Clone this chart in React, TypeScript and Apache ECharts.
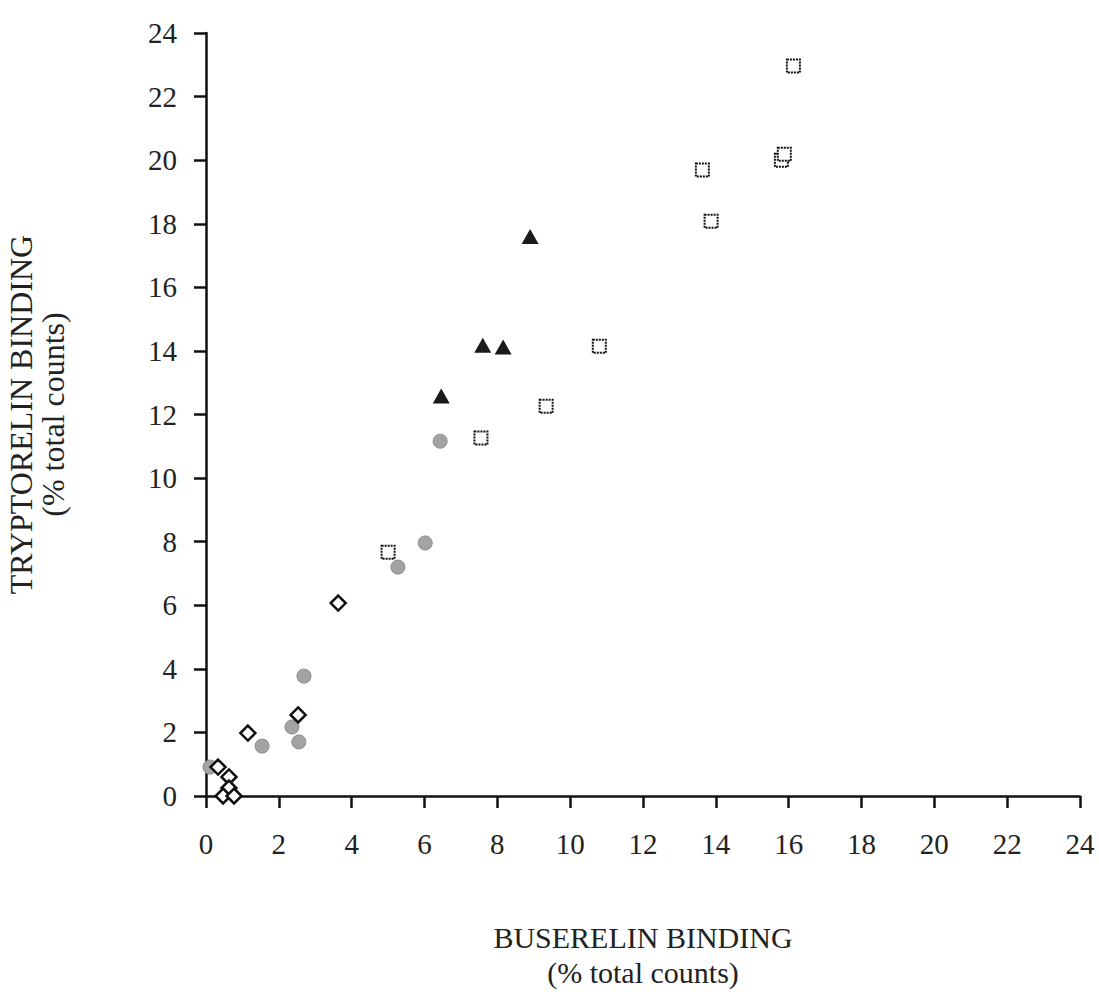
import React, { useEffect, useRef } from "react";
import * as echarts from "echarts";

const xTitle = "BUSERELIN BINDING\n(% total counts)";
const yTitle = "TRYPTORELIN BINDING\n(% total counts)";

const squares: [number, number][] = [
  [5.0, 7.67], [7.55, 11.26], [9.34, 12.26], [10.8, 14.15],
  [13.63, 19.69], [13.87, 18.08], [15.8, 20.0], [15.88, 20.19], [16.13, 22.96],
];
const triangles: [number, number][] = [
  [6.46, 12.58], [7.6, 14.18], [8.16, 14.12], [8.9, 17.6],
];
const diamonds: [number, number][] = [
  [0.33, 0.91], [0.63, 0.6], [0.63, 0.25], [0.47, 0.0], [0.77, 0.0],
  [1.15, 1.98], [2.53, 2.55], [3.63, 6.07],
];
const dotted: [number, number][] = [
  [0.11, 0.91], [1.54, 1.57], [2.36, 2.17], [2.55, 1.7], [2.69, 3.77],
  [5.27, 7.2], [6.02, 7.96], [6.43, 11.16],
];

const FONT = "Liberation Serif";

export default function App() {
  const ref = useRef<HTMLDivElement>(null);
  useEffect(() => {
    if (!ref.current) return;
    const chart = echarts.init(ref.current, null, { renderer: "svg" });
    const axisCommon = {
      type: "value" as const,
      min: 0,
      max: 24,
      interval: 2,
      splitLine: { show: false },
      axisLine: { show: true, onZero: false, lineStyle: { color: "#111", width: 2.5 } },
      axisTick: { show: true, inside: false, length: 12, lineStyle: { color: "#111", width: 2.5 } },
      nameLocation: "middle" as const,
    };
    chart.setOption({
      animation: false,
      backgroundColor: "#ffffff",
      grid: { left: 206, right: 19, top: 33, bottom: 199, outerBoundsMode: "none", containLabel: false },
      xAxis: {
        ...axisCommon,
        name: xTitle,
        nameGap: 124,
        nameTextStyle: { fontFamily: FONT, fontSize: 30, color: "#222", lineHeight: 35 },
        axisLabel: { fontFamily: FONT, fontSize: 29, color: "#222", margin: 33 },
      },
      yAxis: {
        ...axisCommon,
        name: yTitle,
        nameGap: 137,
        nameTextStyle: { fontFamily: FONT, fontSize: 32, color: "#222", lineHeight: 32 },
        axisLabel: { fontFamily: FONT, fontSize: 29, color: "#222", margin: 29 },
      },
      series: [
        {
          type: "scatter",
          name: "dotted",
          data: dotted,
          symbol: "circle",
          symbolSize: 14,
          itemStyle: { color: "#a3a3a3", borderColor: "#8c8c8c", borderWidth: 1, opacity: 1 },
        },
        {
          type: "scatter",
          name: "diamond",
          data: diamonds,
          symbol: "diamond",
          symbolSize: [15, 15],
          itemStyle: { color: "#ffffff", borderColor: "#111", borderWidth: 2.5, opacity: 1 },
        },
        {
          type: "scatter",
          name: "square",
          data: squares,
          symbol: "rect",
          symbolSize: 13,
          itemStyle: { color: "#ffffff", borderColor: "#111", borderWidth: 2, borderType: [2, 1], opacity: 1 },
        },
        {
          type: "scatter",
          name: "triangle",
          data: triangles,
          symbol: "triangle",
          symbolSize: [17, 15],
          itemStyle: { color: "#1a1a1a", opacity: 1 },
        },
      ],
    });
    return () => chart.dispose();
  }, []);
  return (
    <div
      ref={ref}
      style={{ position: "fixed", left: 0, top: 0, width: 1099, height: 995, background: "#fff" }}
    />
  );
}
